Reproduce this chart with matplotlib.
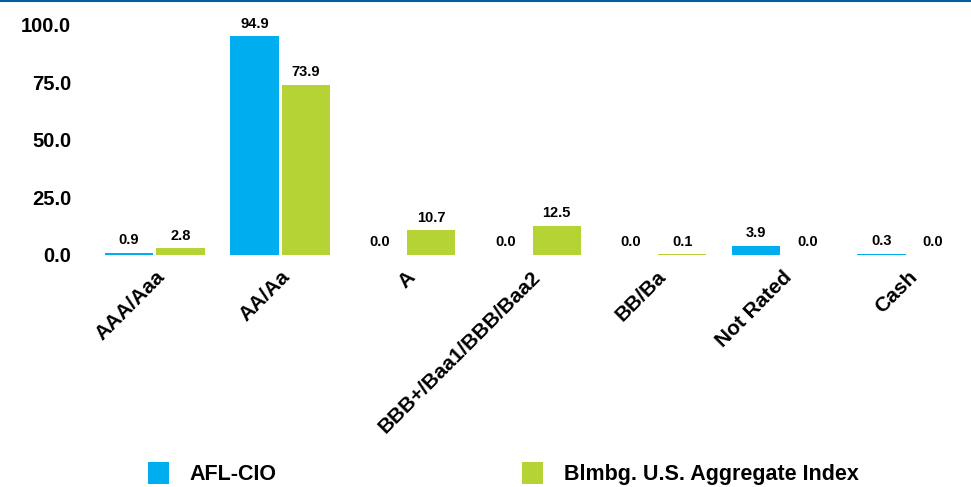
import numpy as np
import matplotlib
matplotlib.use("Agg")
import matplotlib.pyplot as plt
import matplotlib.transforms as mtransforms
from matplotlib.patches import Patch
from matplotlib.lines import Line2D

plt.rcParams['font.family'] = ['Liberation Sans', 'DejaVu Sans']
plt.rcParams['font.weight'] = 'bold'

categories = ['AAA/Aaa', 'AA/Aa', 'A', 'BBB+/Baa1/BBB/Baa2', 'BB/Ba', 'Not Rated', 'Cash']
afl_cio = [0.9, 94.9, 0.0, 0.0, 0.0, 3.9, 0.3]
blmbg = [2.8, 73.9, 10.7, 12.5, 0.1, 0.0, 0.0]
series_names = ['AFL-CIO', 'Blmbg. U.S. Aggregate Index']
colors = ['#00AEEF', '#B5D334']

fig = plt.figure(figsize=(9.71, 4.87), dpi=100)
ax = fig.add_axes([92 / 971, 1 - 254.7 / 487, 878 / 971, 230.2 / 487])

x = np.arange(len(categories))
w = 0.385
b1 = ax.bar(x - w / 2 - 0.012, afl_cio, w, color=colors[0], linewidth=0)
b2 = ax.bar(x + w / 2 + 0.012, blmbg, w, color=colors[1], linewidth=0)

for bars, vals in ((b1, afl_cio), (b2, blmbg)):
    for r, v in zip(bars, vals):
        ax.annotate(f'{v:.1f}', (r.get_x() + r.get_width() / 2, r.get_height()),
                    xytext=(0, 4), textcoords='offset points', ha='center', va='bottom',
                    fontsize=10.5, fontweight='bold')

ax.set_ylim(0, 100)
ax.set_xlim(-0.5, len(categories) - 0.5)
ax.set_yticks([0, 25, 50, 75, 100])
ax.set_yticklabels([f'{t:.1f}' for t in [0, 25, 50, 75, 100]], fontsize=14.5, fontweight='bold')
ax.set_xticks(x)
ax.set_xticklabels(categories, rotation=45, ha='right', rotation_mode='anchor',
                   fontsize=15, fontweight='bold')
shift = mtransforms.ScaledTranslation(-0.05, 0, fig.dpi_scale_trans)
for lbl in ax.get_xticklabels():
    lbl.set_transform(lbl.get_transform() + shift)
ax.tick_params(axis='both', length=0)
ax.tick_params(axis='x', pad=9)
ax.tick_params(axis='y', pad=15)
for s in ax.spines.values():
    s.set_visible(False)

# two single-entry legends so each can sit where it is in the original
for name, c, xl in zip(series_names, colors, [148, 522]):
    fig.legend([Patch(facecolor=c)], [name], loc='center left',
               bbox_to_anchor=(xl / 971, 1 - 473.5 / 487), borderaxespad=0, borderpad=0,
               frameon=False, handlelength=0.98, handleheight=1.2, handletextpad=0.95,
               prop={'weight': 'bold', 'size': 15.5})

fig.add_artist(Line2D([0, 1], [0.998, 0.998], color='#00609C', linewidth=1.5))

fig.savefig('out.png', dpi=100)
